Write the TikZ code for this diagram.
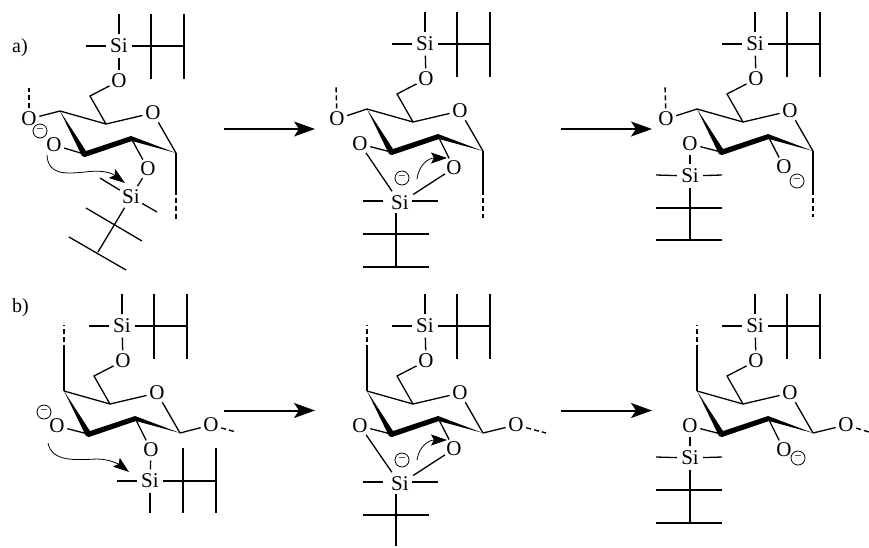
\documentclass[tikz,border=0pt]{standalone}
\usepackage{fontspec}
\setmainfont{Liberation Serif}
\usetikzlibrary{arrows.meta}
\tikzset{
  x=1pt,y=-1pt,
  bond/.style={line width=1.3pt,line cap=butt},
  heavy/.style={line width=2pt},
  dashbond/.style={line width=1.4pt,dash pattern=on 5pt off 3pt},
  atomO/.style={circle,inner sep=0pt,minimum size=21pt,font=\fontsize{21}{21}\selectfont},
  atomSi/.style={rectangle,inner sep=0pt,minimum width=26pt,minimum height=23pt,font=\fontsize{21}{21}\selectfont},
  tag/.style={inner sep=0pt,anchor=base west,font=\fontsize{20}{20}\selectfont},
  minus/.style={circle,draw,line width=0.8pt,inner sep=0pt,minimum size=14pt,font=\fontsize{13}{13}\selectfont},
  react/.style={line width=1.5pt,-{Stealth[length=21pt,width=15pt,inset=5pt]}},
  reactb/.style={line width=2pt,-{Stealth[length=21pt,width=15pt,inset=5pt]}},
  curly/.style={line width=0.8pt,-{Stealth[length=16pt,width=11pt,inset=3pt]}},
}
% sugar ring: #1 prefix, (#2,#3) position of C5
\newcommand{\sugarring}[3]{%
\begin{scope}[shift={(#2,#3)},name prefix=#1-]
  \coordinate (C5) at (0,0);
  \coordinate (C1) at (70,29);
  \coordinate (C2) at (25,14);
  \coordinate (C3) at (-22,30);
  \coordinate (C4) at (-46,-13);
  \coordinate (C6) at (-16,-28);
  \node[atomO] (Or) at (47,-11) {O};
  \node[atomO] (Ot) at (13,-43) {O};
  \draw[bond] (Ot) -- (C6) -- (C5);
  \draw[bond] (C4) -- (C5) -- (Or) -- (C1);
  \fill (-46,-13) -- (-20,27) -- (25,12) -- (70,29) -- (26,17) -- (-21,33) -- (-24,32) -- cycle;
\end{scope}}
% upper silyl group: #1 prefix, (#2,#3) Si, #4 style of cross bar, #5 style of end bar
\newcommand{\topsilyl}[5]{%
\begin{scope}[shift={(#2,#3)},name prefix=#1-]
  \node[atomSi] (Si) at (0,0) {Si};
  \coordinate (Me1) at (0,-32);
  \coordinate (Me2) at (-33,0);
  \coordinate (Ja) at (32,0);
  \coordinate (Jb) at (65,0);
  \coordinate (Ja1) at (32,-32);
  \coordinate (Ja2) at (32,33);
  \coordinate (Jb1) at (65,-32);
  \coordinate (Jb2) at (65,33);
  \draw[bond] (Si) -- (Me1);
  \draw[bond] (Si) -- (Me2);
  \draw[bond] (Si) -- (Jb);
  \draw[bond,#4] (Ja1) -- (Ja2);
  \draw[bond,#5] (Jb1) -- (Jb2);
  \draw[bond] (Si) -- (Ot);
\end{scope}}
\begin{document}
\begin{tikzpicture}
\useasboundingbox (0,0) rectangle (869,547);
\node[tag] (la) at (12,52) {a)};
\node[tag] (lb) at (12,312) {b)};
% reaction arrows
\coordinate (r1s) at (224,129); \coordinate (r1e) at (315,129);
\coordinate (r2s) at (561,129); \coordinate (r2e) at (652,129);
\coordinate (r3s) at (224,410.5); \coordinate (r3e) at (315,410.5);
\coordinate (r4s) at (561,410.5); \coordinate (r4e) at (652,410.5);
\draw[react] (r1s) -- (r1e);
\draw[react] (r2s) -- (r2e);
\draw[reactb] (r3s) -- (r3e);
\draw[reactb] (r4s) -- (r4e);

% ---------- a1
\sugarring{a1}{106}{124}
\topsilyl{a1}{119}{46}{heavy}{}
\node[atomO] (a1-O4) at (29,119) {O};
\coordinate (a1-O4e) at (29,88);
\draw[bond] (a1-C4) -- (a1-O4);
\draw[dashbond] (a1-O4) -- (a1-O4e);
\node[minus] (a1-m) at (40,131) {−};
\node[atomO] (a1-O3) at (54,145) {O};
\draw[bond] (a1-C3) -- (a1-O3);
\node[atomO] (a1-O2) at (148,169) {O};
\draw[bond] (a1-C2) -- (a1-O2);
\node[atomSi,minimum width=22pt,minimum height=21pt] (a1-Si2) at (131,197) {Si};
\draw[bond] (a1-O2) -- (a1-Si2);
\coordinate (a1-M1) at (100,178);
\coordinate (a1-M2) at (157,212);
\coordinate (a1-J1) at (98,252);
\coordinate (a1-X1) at (86,208); \coordinate (a1-X2) at (142,241);
\coordinate (a1-Y1) at (69,237); \coordinate (a1-Y2) at (126,270);
\draw[bond] (a1-Si2) -- (a1-M1);
\draw[bond] (a1-Si2) -- (a1-M2);
\draw[bond] (a1-Si2) -- (a1-J1);
\draw[bond] (a1-X1) -- (a1-X2);
\draw[bond] (a1-Y1) -- (a1-Y2);
\coordinate (a1-C1d) at (176,190); \coordinate (a1-C1e) at (176,219);
\draw[bond] (a1-C1) -- (a1-C1d);
\draw[dashbond] (a1-C1d) -- (a1-C1e);
\coordinate (a1-cs) at (47,155); \coordinate (a1-cm) at (85,172); \coordinate (a1-ce) at (125,183);
\draw[curly] (a1-cs) .. controls (48,175) and (65,174) .. (a1-cm) .. controls (100,170) and (110,172) .. (a1-ce);

% ---------- a2
\sugarring{a2}{413}{122}
\topsilyl{a2}{425}{44}{}{heavy}
\node[atomO] (a2-O4) at (337,119) {O};
\coordinate (a2-O4e) at (336,85);
\draw[bond] (a2-C4) -- (a2-O4);
\draw[dashbond] (a2-O4) -- (a2-O4e);
\node[atomO] (a2-O3) at (360,144) {O};
\draw[bond] (a2-C3) -- (a2-O3);
\node[atomO] (a2-O2) at (454,168) {O};
\draw[bond] (a2-C2) -- (a2-O2);
\node[atomSi] (a2-Si2) at (400,203) {Si};
\draw[bond] (a2-O3) -- (a2-Si2);
\draw[bond] (a2-O2) -- (a2-Si2);
\coordinate (a2-SiL) at (383,201); \coordinate (a2-M1) at (363,201);
\coordinate (a2-SiR) at (412,201); \coordinate (a2-M2) at (438,201);
\coordinate (a2-SiD) at (396,213); \coordinate (a2-J2) at (396,267);
\coordinate (a2-X1) at (363,234); \coordinate (a2-X2) at (429,234);
\coordinate (a2-Y1) at (363,267); \coordinate (a2-Y2) at (429,267);
\draw[bond,heavy] (a2-SiL) -- (a2-M1);
\draw[bond,heavy] (a2-SiR) -- (a2-M2);
\draw[bond] (a2-SiD) -- (a2-J2);
\draw[bond] (a2-X1) -- (a2-X2);
\draw[bond,heavy] (a2-Y1) -- (a2-Y2);
\node[minus] (a2-m) at (402,178) {−};
\coordinate (a2-C1d) at (483,190); \coordinate (a2-C1e) at (483,218);
\draw[bond] (a2-C1) -- (a2-C1d);
\draw[dashbond] (a2-C1d) -- (a2-C1e);
\coordinate (a2-cs) at (417,179); \coordinate (a2-ce) at (447,158);
\draw[curly] (a2-cs) .. controls (419,164) and (429,158) .. (a2-ce);

% ---------- a3
\sugarring{a3}{743}{122}
\topsilyl{a3}{755}{44}{}{}
\node[atomO] (a3-O4) at (666,119) {O};
\coordinate (a3-O4e) at (665,85);
\draw[bond] (a3-C4) -- (a3-O4);
\draw[dashbond] (a3-O4) -- (a3-O4e);
\node[atomO] (a3-O3) at (690,144) {O};
\draw[bond] (a3-C3) -- (a3-O3);
\node[atomO] (a3-O2) at (784,167) {O};
\draw[bond] (a3-C2) -- (a3-O2);
\node[minus] (a3-m) at (797,181) {−};
\node[atomSi] (a3-Si2) at (690,176) {Si};
\draw[bond] (a3-O3) -- (a3-Si2);
\coordinate (a3-M1) at (656,175); \coordinate (a3-M2) at (722,175);
\coordinate (a3-J2) at (690,240);
\coordinate (a3-X1) at (656,208); \coordinate (a3-X2) at (722,208);
\coordinate (a3-Y1) at (656,240); \coordinate (a3-Y2) at (722,240);
\draw[bond] (a3-Si2) -- (a3-M1);
\draw[bond] (a3-Si2) -- (a3-M2);
\draw[bond] (a3-Si2) -- (a3-J2);
\draw[bond] (a3-X1) -- (a3-X2);
\draw[bond] (a3-Y1) -- (a3-Y2);
\coordinate (a3-C1d) at (813,190); \coordinate (a3-C1e) at (813,217);
\draw[bond] (a3-C1) -- (a3-C1d);
\draw[dashbond] (a3-C1d) -- (a3-C1e);

% ---------- b1
\sugarring{b1}{110}{404}
\topsilyl{b1}{122}{326}{}{}
\coordinate (b1-C4d) at (64,350); \coordinate (b1-C4e) at (64,325);
\draw[bond] (b1-C4) -- (b1-C4d);
\draw[dashbond] (b1-C4d) -- (b1-C4e);
\node[atomO] (b1-O3) at (57,426) {O};
\draw[bond] (b1-C3) -- (b1-O3);
\node[minus] (b1-m) at (44,412) {−};
\node[atomO] (b1-O1) at (211,425) {O};
\coordinate (b1-O1e) at (236,432);
\draw[bond] (b1-C1) -- (b1-O1);
\draw[dashbond] (b1-O1) -- (b1-O1e);
\node[atomO] (b1-O2) at (151,450) {O};
\draw[bond] (b1-C2) -- (b1-O2);
\node[atomSi] (b1-Si2) at (150,481) {Si};
\draw[bond] (b1-O2) -- (b1-Si2);
\coordinate (b1-M1) at (117,481); \coordinate (b1-M2) at (150,513);
\coordinate (b1-Jb) at (216,481);
\coordinate (b1-X1) at (183,448); \coordinate (b1-X2) at (183,513);
\coordinate (b1-Y1) at (216,448); \coordinate (b1-Y2) at (216,513);
\draw[bond] (b1-Si2) -- (b1-M1);
\draw[bond] (b1-Si2) -- (b1-M2);
\draw[bond] (b1-Si2) -- (b1-Jb);
\draw[bond] (b1-X1) -- (b1-X2);
\draw[bond] (b1-Y1) -- (b1-Y2);
\coordinate (b1-cs) at (48,443); \coordinate (b1-cm) at (97,459); \coordinate (b1-ce) at (129,472);
\draw[curly] (b1-cs) .. controls (52,462) and (75,460) .. (b1-cm) .. controls (110,459) and (120,465) .. (b1-ce);

% ---------- b2
\sugarring{b2}{413}{404}
\topsilyl{b2}{425}{326}{}{heavy}
\coordinate (b2-C4d) at (367,350); \coordinate (b2-C4e) at (367,325);
\draw[bond] (b2-C4) -- (b2-C4d);
\draw[dashbond] (b2-C4d) -- (b2-C4e);
\node[atomO] (b2-O3) at (360,426) {O};
\draw[bond] (b2-C3) -- (b2-O3);
\node[atomO] (b2-O1) at (516,425) {O};
\coordinate (b2-O1e) at (546,433);
\draw[bond] (b2-C1) -- (b2-O1);
\draw[dashbond] (b2-O1) -- (b2-O1e);
\node[atomO] (b2-O2) at (454,449) {O};
\draw[bond] (b2-C2) -- (b2-O2);
\node[atomSi] (b2-Si2) at (400,484) {Si};
\draw[bond] (b2-O3) -- (b2-Si2);
\draw[bond] (b2-O2) -- (b2-Si2);
\coordinate (b2-SiL) at (383,482); \coordinate (b2-M1) at (363,482);
\coordinate (b2-SiR) at (412,482); \coordinate (b2-M2) at (438,482);
\coordinate (b2-SiD) at (396,494); \coordinate (b2-J2) at (396,546);
\coordinate (b2-X1) at (363,515); \coordinate (b2-X2) at (429,515);
\draw[bond] (b2-SiL) -- (b2-M1);
\draw[bond] (b2-SiR) -- (b2-M2);
\draw[bond] (b2-SiD) -- (b2-J2);
\draw[bond] (b2-X1) -- (b2-X2);
\node[minus] (b2-m) at (402,460) {−};
\coordinate (b2-cs) at (417,460); \coordinate (b2-ce) at (447,440);
\draw[curly] (b2-cs) .. controls (419,446) and (429,440) .. (b2-ce);

% ---------- b3
\sugarring{b3}{743}{404}
\topsilyl{b3}{755}{326}{}{}
\coordinate (b3-C4d) at (697,350); \coordinate (b3-C4e) at (697,325);
\draw[bond] (b3-C4) -- (b3-C4d);
\draw[dashbond] (b3-C4d) -- (b3-C4e);
\node[atomO] (b3-O3) at (690,426) {O};
\draw[bond] (b3-C3) -- (b3-O3);
\node[atomO] (b3-O2) at (784,450) {O};
\draw[bond] (b3-C2) -- (b3-O2);
\node[minus] (b3-m) at (798,458) {−};
\node[atomO] (b3-O1) at (846,425) {O};
\coordinate (b3-O1e) at (869,432);
\draw[bond] (b3-C1) -- (b3-O1);
\draw[dashbond] (b3-O1) -- (b3-O1e);
\node[atomSi] (b3-Si2) at (690,458) {Si};
\draw[bond] (b3-O3) -- (b3-Si2);
\coordinate (b3-M1) at (656,457); \coordinate (b3-M2) at (722,457);
\coordinate (b3-J2) at (690,523);
\coordinate (b3-X1) at (656,490); \coordinate (b3-X2) at (722,490);
\coordinate (b3-Y1) at (656,523); \coordinate (b3-Y2) at (722,523);
\draw[bond] (b3-Si2) -- (b3-M1);
\draw[bond] (b3-Si2) -- (b3-M2);
\draw[bond] (b3-Si2) -- (b3-J2);
\draw[bond] (b3-X1) -- (b3-X2);
\draw[bond,heavy] (b3-Y1) -- (b3-Y2);
\end{tikzpicture}
\end{document}
